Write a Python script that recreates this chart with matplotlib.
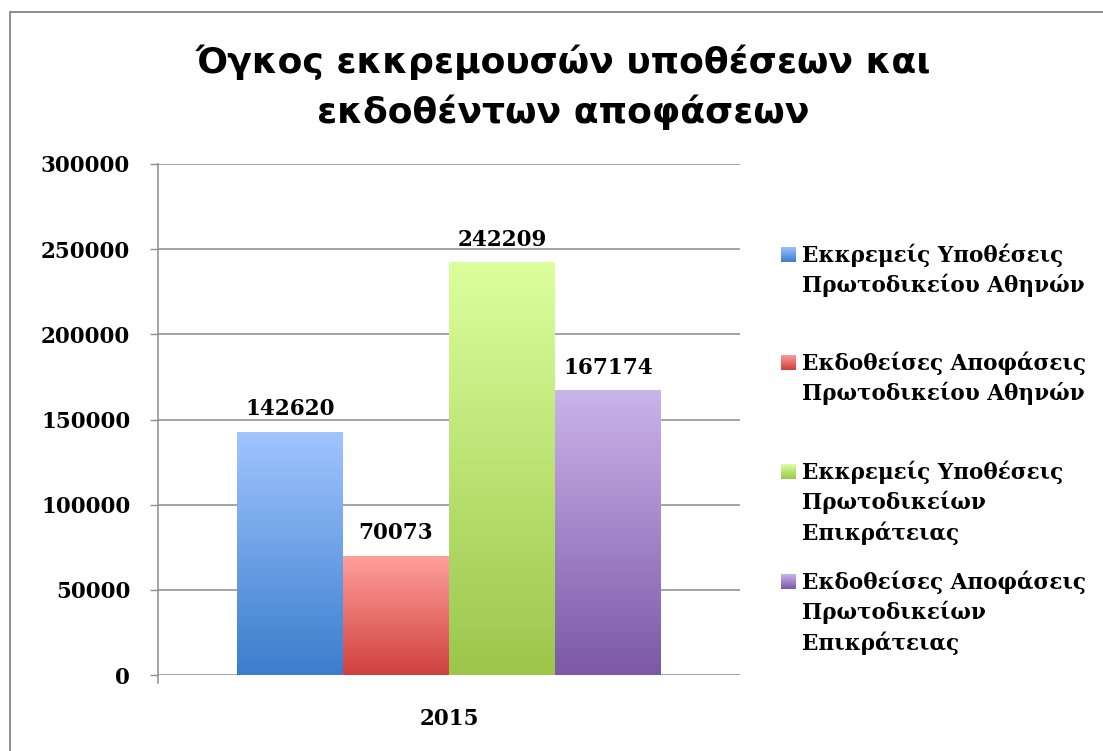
import numpy as np
import matplotlib
matplotlib.use("Agg")
import matplotlib.pyplot as plt
from matplotlib.colors import LinearSegmentedColormap
from matplotlib.patches import Rectangle

# data
title = "Όγκος εκκρεμουσών υποθέσεων και\nεκδοθέντων αποφάσεων"
year = "2015"
series = [
    "Εκκρεμείς Υποθέσεις\nΠρωτοδικείου Αθηνών",
    "Εκδοθείσες Αποφάσεις\nΠρωτοδικείου Αθηνών",
    "Εκκρεμείς Υποθέσεις\nΠρωτοδικείων\nΕπικράτειας",
    "Εκδοθείσες Αποφάσεις\nΠρωτοδικείων\nΕπικράτειας",
]
values = [142620, 70073, 242209, 167174]
yticks = [0, 50000, 100000, 150000, 200000, 250000, 300000]

# gradient colours, top -> bottom
tops = ["#a0c5ff", "#ffa09d", "#dcff9d", "#cab4eb"]
bottoms = ["#3b7dcd", "#cf413e", "#9bc64a", "#7c58a6"]

W, H = 1103, 751
fig = plt.figure(figsize=(W / 100, H / 100), dpi=100)
fig.patch.set_facecolor("white")

serif = "DejaVu Serif"
fs = 15.5

# outer frame (only top and left visible)
fig.add_artist(Rectangle((10 / W, -0.1), 1.2, (H - 12) / H + 0.1, transform=fig.transFigure,
                         fill=False, edgecolor="#8c8c8c", linewidth=1.4))

# title
for i, line in enumerate(title.split("\n")):
    fig.text(563 / W, 1 - (73 + 50 * i) / H, line, ha="center", va="baseline",
             fontsize=26, fontweight="bold", family="DejaVu Sans")

ax = fig.add_axes([158 / W, (H - 675) / H, (740 - 158) / W, (675 - 164) / H])
ax.set_facecolor("none")

n = len(values)
bw = 106 / 582
xs = (np.arange(n) - (n - 1) / 2) * bw
grad = np.linspace(0, 1, 256).reshape(-1, 1)

bars = ax.bar(xs, values, width=bw, color="none", edgecolor="none", zorder=3)
for bar, top, bot, v in zip(bars, tops, bottoms, values):
    cmap = LinearSegmentedColormap.from_list("g", [bot, top])
    x0 = bar.get_x()
    im = ax.imshow(grad, extent=[x0, x0 + bw, 0, v], origin="lower", aspect="auto",
                   cmap=cmap, zorder=2)
    im.set_clip_path(bar)
    ax.annotate(f"{v}", (bar.get_x() + bw / 2, v), xytext=(0, 12), textcoords="offset points",
                ha="center", va="baseline", fontsize=fs, fontweight="bold", family=serif)

ax.set_xlim(-0.5, 0.5)
ax.set_ylim(0, 300000)
ax.set_yticks(yticks)
ax.set_yticklabels([str(t) for t in yticks], fontsize=fs, fontweight="bold", family=serif)
ax.set_xticks([0])
ax.set_xticklabels([year], fontsize=fs, fontweight="bold", family=serif)
ax.tick_params(axis="y", length=6, color="#8c8c8c", width=1, pad=14)
ax.tick_params(axis="x", length=0, pad=24)
ax.grid(axis="y", color="#8c8c8c", linewidth=1.1, zorder=0)
ax.set_axisbelow(True)
for s in ["top", "right", "bottom"]:
    ax.spines[s].set_visible(False)
ax.spines["left"].set_color("#8c8c8c")
ax.spines["left"].set_linewidth(1.1)
ax.spines["left"].set_bounds(-4700, 300000)

# legend, laid out by hand
starts = [255, 363, 472, 582]
for lab, top, bot, y0 in zip(series, tops, bottoms, starts):
    lax = fig.add_axes([781 / W, 1 - (y0 + 7) / H, 15 / W, 15 / H])
    lax.imshow(grad, origin="lower", aspect="auto",
               cmap=LinearSegmentedColormap.from_list("g", [bot, top]))
    lax.axis("off")
    for k, line in enumerate(lab.split("\n")):
        fig.text(802 / W, 1 - (y0 + 30.5 * k) / H, line, ha="left", va="center",
                 fontsize=fs, fontweight="bold", family=serif)

fig.savefig("out.png", dpi=100)
